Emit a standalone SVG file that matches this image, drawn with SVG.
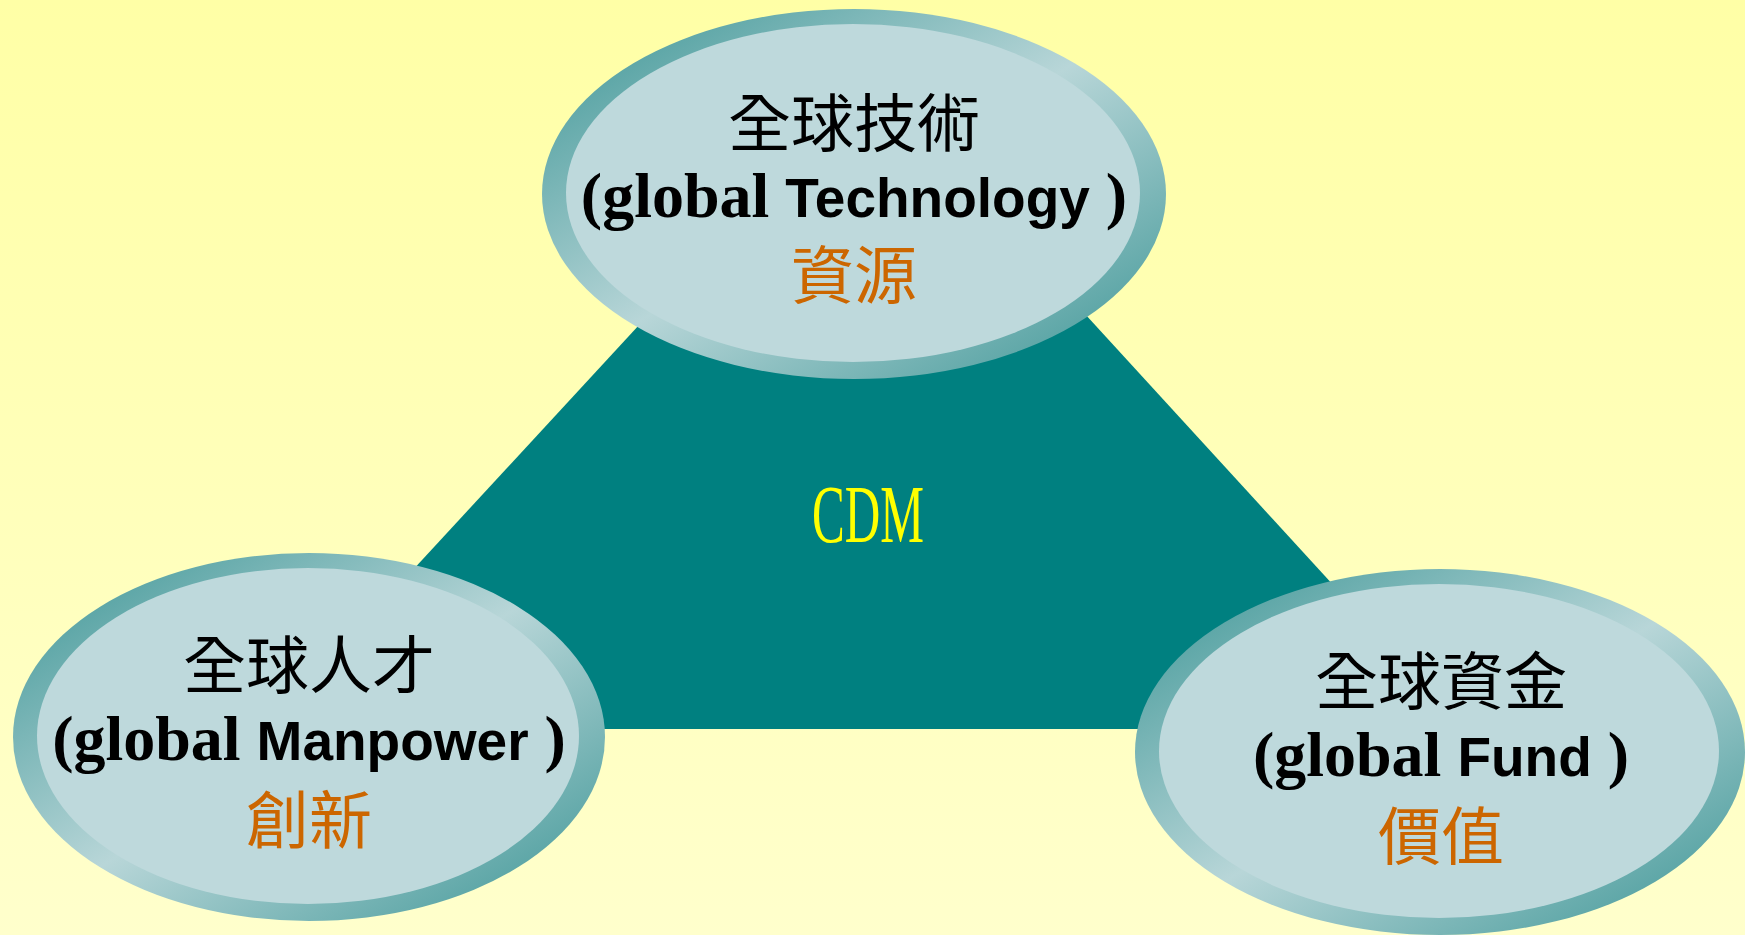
<svg xmlns="http://www.w3.org/2000/svg" width="1745" height="935" viewBox="0 0 1745 935">
  <defs>
    <linearGradient id="bg" x1="0" y1="0" x2="0" y2="1">
      <stop offset="0" stop-color="#FFFFA6"/>
      <stop offset="1" stop-color="#FFFFCC"/>
    </linearGradient>
    <linearGradient id="ring" x1="0" y1="0" x2="1" y2="1">
      <stop offset="0" stop-color="#3A9494"/>
      <stop offset="0.5" stop-color="#B8D6D8"/>
      <stop offset="1" stop-color="#3A9494"/>
    </linearGradient>
    <style>
      .ring { fill: url(#ring); }
      .inner { fill: #BED9DC; }
      .cjk { font-family: "Noto Sans CJK TC", "Noto Sans CJK SC", sans-serif; font-size: 63px; text-anchor: middle; }
      .black { fill: #000000; }
      .orange { fill: #CC6600; }
      .en { font-size: 64px; font-weight: bold; fill: #000000; text-anchor: middle; font-family: "Liberation Serif", serif; }
      .sans { font-family: "Liberation Sans", Arial, sans-serif; font-size: 55px; }
      .cdm { font-family: "Liberation Serif", serif; font-size: 82px; fill: #FFFF00; text-anchor: middle; }
    </style>
  </defs>

  <rect x="0" y="0" width="1745" height="935" fill="url(#bg)"/>

  <g id="connectors">
    <polygon points="868,77 1465,729 266,729" fill="#008080"/>
  </g>

  <g id="cdm">
    <text class="cdm" x="868" y="542" textLength="112" lengthAdjust="spacingAndGlyphs">CDM</text>
  </g>

  <g id="node-technology">
    <ellipse class="ring" cx="854" cy="194" rx="312" ry="185"/>
    <ellipse class="inner" cx="853" cy="193" rx="287" ry="169"/>
    <text class="cjk black" x="854" y="146">全球技術</text>
    <text class="en" x="854" y="217">(global <tspan class="sans">Technology</tspan> )</text>
    <text class="cjk orange" x="854" y="298">資源</text>
  </g>

  <g id="node-manpower">
    <ellipse class="ring" cx="309" cy="737" rx="296" ry="184"/>
    <ellipse class="inner" cx="308" cy="736" rx="271" ry="168"/>
    <text class="cjk black" x="309" y="688">全球人才</text>
    <text class="en" x="309" y="760">(global <tspan class="sans">Manpower</tspan> )</text>
    <text class="cjk orange" x="309" y="843">創新</text>
  </g>

  <g id="node-fund">
    <ellipse class="ring" cx="1440" cy="752" rx="305" ry="183"/>
    <ellipse class="inner" cx="1439" cy="751" rx="280" ry="167"/>
    <text class="cjk black" x="1441" y="704">全球資金</text>
    <text class="en" x="1441" y="776">(global <tspan class="sans">Fund</tspan> )</text>
    <text class="cjk orange" x="1441" y="859">價值</text>
  </g>
</svg>
